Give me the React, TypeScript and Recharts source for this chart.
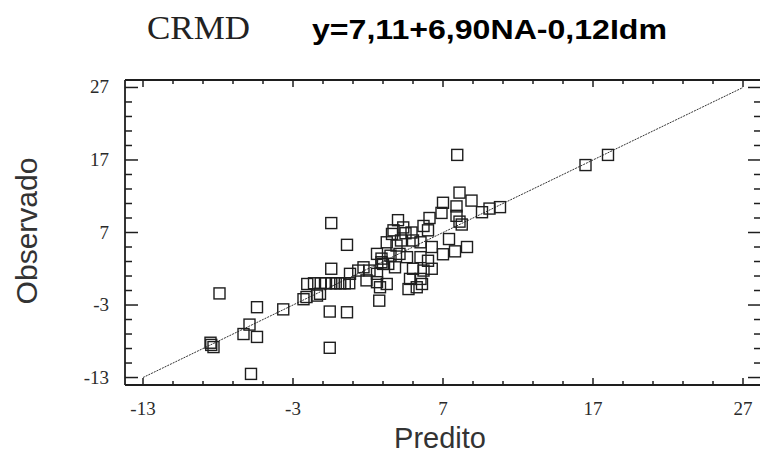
import { ScatterChart, Scatter, XAxis, YAxis, ReferenceLine } from "recharts";

const predito = [
  -8.5, -8.3, -8.45, -7.9, -6.3, -5.9, -5.4, -5.8, -5.4, -3.65,
  -2.3, -2.1, -1.4, -1.2, -2.05, -1.6, -1.15, -0.8, -0.45, -0.15,
  0.15, 0.45, 0.75, -0.45, -0.45, 0.6, -0.55, 0.6, -0.55, 0.8,
  1.35, 1.7, 2.1, 2.9, 3.35, 1.9, 2.6, 3.25, 2.8, 2.75,
  3.7, 4.35, 4.9, 5.7, 6.0, 3.25, 3.9, 4.2, 5.0, 5.5,
  6.25, 7.0, 2.6, 2.9, 3.5, 4.1, 4.6, 5.5, 6.0, 3.0,
  3.8, 5.0, 5.7, 6.25, 2.6, 4.8, 5.5, 4.7, 5.25, 5.6,
  4.0, 6.1, 7.0, 7.9, 6.9, 7.9, 8.1, 8.25, 8.1, 8.9,
  7.95, 7.4, 8.6, 7.8, 9.6, 10.1, 10.8, 16.5, 18.0, 3.6,
  4.5,
];
const observado = [
  -8.2, -8.8, -8.5, -1.4, -7.0, -5.7, -7.4, -12.5, -3.3, -3.6,
  -2.2, -1.9, -1.7, -1.45, -0.1, 0.0, 0.0, 0.0, 0.0, 0.0,
  0.0, 0.0, 0.0, 2.0, 8.3, 5.3, -3.9, -4.0, -8.9, 1.3,
  1.75, 2.2, 1.75, 2.9, 2.67, 0.4, 0.15, -0.1, -0.55, -2.4,
  7.3, 7.7, 7.0, 7.9, 7.3, 5.65, 5.2, 5.9, 5.9, 5.65,
  5.0, 4.0, 4.05, 3.4, 3.8, 4.05, 3.6, 3.6, 3.1, 2.67,
  2.2, 2.0, 1.75, 2.0, 1.3, 0.6, 0.6, -0.8, -0.55, -0.1,
  8.7, 9.0, 11.1, 10.6, 9.7, 9.3, 8.5, 8.1, 12.5, 11.4,
  17.7, 6.1, 5.0, 4.4, 9.8, 10.3, 10.5, 16.3, 17.7, 6.8,
  6.9,
];

const majorTicks = [-13, -3, 7, 17, 27];
const allTicks = [-13, -11, -9, -7, -5, -3, -1, 1, 3, 5, 7, 9, 11, 13, 15, 17, 19, 21, 23, 25, 27];
const fitStart = -13;
const fitEnd = 27;

const points = predito.map((x, i) => ({ x, y: observado[i] }));

const INK = "#1e1e1e";
const serif = "'Liberation Serif', 'Times New Roman', serif";
const sans = "'Liberation Sans', Arial, sans-serif";

// plot box (pixels)
const LEFT = 125;
const TOP = 80;
const RIGHT = 761;
const BOTTOM = 385;

const X_MIN = -14.2;
const X_MAX = 28.2;
const Y_MIN = -14.03;
const Y_MAX = 28.03;
const pxPerX = (RIGHT - LEFT) / (X_MAX - X_MIN);
const pxPerY = (BOTTOM - TOP) / (Y_MAX - Y_MIN);

// tick positions for the inward tick marks of the frame
const tickX = (t: number) => LEFT + (t - X_MIN) * pxPerX;
const tickY = (t: number) => BOTTOM - (t - Y_MIN) * pxPerY;

const XLabel = (props: any) => {
  const { x, y, payload } = props;
  if (!majorTicks.includes(payload.value)) return <g />;
  return (
    <text x={x} y={y + 30} textAnchor="middle" fontFamily={serif} fontSize={19} fill="#2a2a2a">
      {payload.value}
    </text>
  );
};

const YLabel = (props: any) => {
  const { x, y, payload } = props;
  if (!majorTicks.includes(payload.value)) return <g />;
  return (
    <text x={x - 16} y={y + 6} textAnchor="end" fontFamily={serif} fontSize={19} fill="#2a2a2a">
      {payload.value}
    </text>
  );
};

const Square = (props: any) => {
  const { cx, cy } = props;
  return <rect x={cx - 5.5} y={cy - 5.5} width={11} height={11} fill="none" stroke={INK} strokeWidth={1.4} />;
};

export default function App() {
  return (
    <div style={{ position: "absolute", left: 0, top: 0, width: 760, height: 455, overflow: "hidden", background: "#fff" }}>
      <ScatterChart width={762} height={455} margin={{ top: TOP, right: 762 - RIGHT, bottom: 0, left: 0 }}>
        <XAxis
          type="number"
          dataKey="x"
          domain={[X_MIN, X_MAX]}
          ticks={allTicks}
          interval={0}
          allowDataOverflow
          height={455 - BOTTOM}
          tickSize={0}
          tickMargin={0}
          tickLine={false}
          axisLine={false}
          tick={XLabel}
        />
        <YAxis
          type="number"
          dataKey="y"
          domain={[Y_MIN, Y_MAX]}
          ticks={allTicks}
          interval={0}
          allowDataOverflow
          width={LEFT}
          tickSize={0}
          tickMargin={0}
          tickLine={false}
          axisLine={false}
          tick={YLabel}
        />
        {/* frame */}
        <ReferenceLine x={X_MIN} stroke={INK} strokeWidth={1.8} ifOverflow="visible" />
        <ReferenceLine x={X_MAX} stroke={INK} strokeWidth={1.8} ifOverflow="visible" />
        <ReferenceLine y={Y_MIN} stroke={INK} strokeWidth={1.8} ifOverflow="visible" />
        <ReferenceLine y={Y_MAX} stroke={INK} strokeWidth={1.8} ifOverflow="visible" />
        {/* fitted line */}
        <ReferenceLine
          segment={[
            { x: fitStart, y: fitStart },
            { x: fitEnd, y: fitEnd },
          ]}
          stroke="#333"
          strokeWidth={1}
          strokeDasharray="2 1"
          ifOverflow="visible"
        />
        <Scatter data={points} shape={<Square />} isAnimationActive={false} />
      </ScatterChart>
      <svg width={760} height={455} style={{ position: "absolute", left: 0, top: 0, pointerEvents: "none" }}>
        {allTicks.map((t) => {
          const major = majorTicks.includes(t);
          const hx = major ? 7 : 4;
          const hy = major ? 13 : 7;
          const px = tickX(t);
          const py = tickY(t);
          return (
            <g key={t} stroke={INK} strokeWidth={1.5}>
              <line x1={px} x2={px} y1={BOTTOM} y2={BOTTOM - hx} />
              <line x1={px} x2={px} y1={TOP} y2={TOP + hx} />
              <line x1={LEFT} x2={LEFT + hy} y1={py} y2={py} />
              <line x1={RIGHT} x2={RIGHT - hy} y1={py} y2={py} />
            </g>
          );
        })}
        <text x={147} y={38.5} fontFamily={serif} fontSize={33} fill="#222" textLength={103} lengthAdjust="spacingAndGlyphs">
          CRMD
        </text>
        <text x={312} y={39} fontFamily={sans} fontWeight="bold" fontSize={28} fill="#000" textLength={355} lengthAdjust="spacingAndGlyphs">
          y=7,11+6,90NA-0,12Idm
        </text>
        <text x={440} y={448} textAnchor="middle" fontFamily={sans} fontSize={29} fill="#333">
          Predito
        </text>
        <text x={37} y={231} textAnchor="middle" fontFamily={sans} fontSize={30} fill="#333" transform="rotate(-90 37 231)">
          Observado
        </text>
      </svg>
    </div>
  );
}
